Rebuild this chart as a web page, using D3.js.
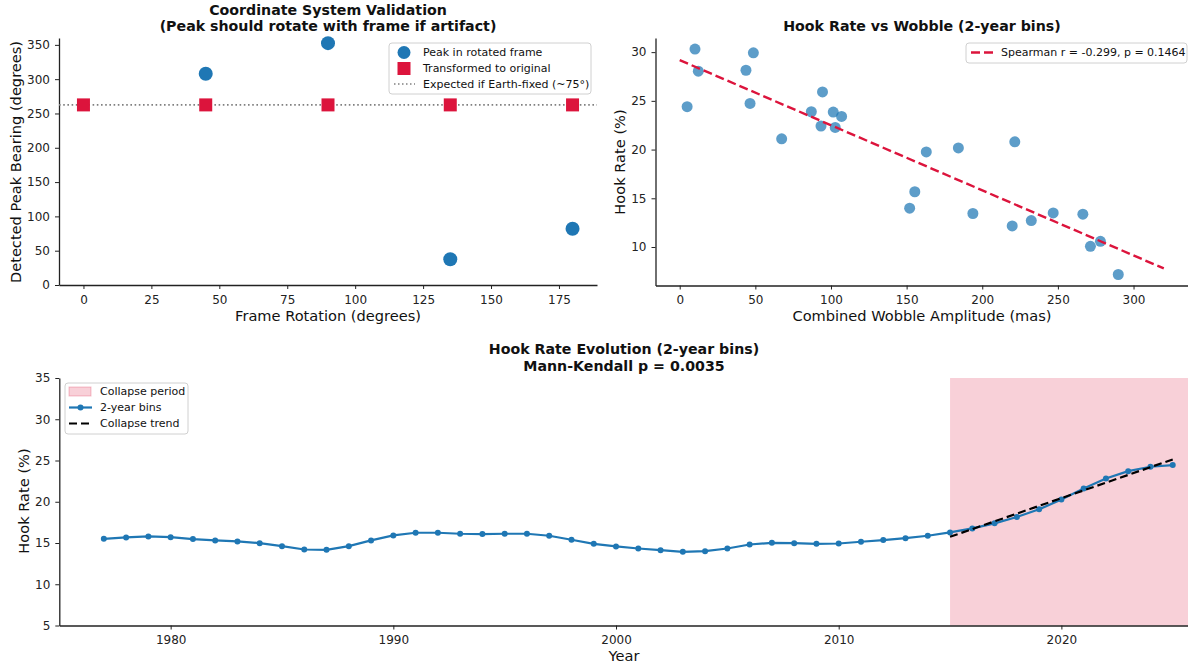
<!DOCTYPE html>
<html>
<head>
<meta charset="utf-8">
<script src="https://cdn.jsdelivr.net/npm/d3@7"></script>
<style>
  body { margin: 0; background: #fff; }
  svg text { font-family: "DejaVu Sans", sans-serif; fill: #111; }
  .tick text { font-size: 12px; fill: #222; }
  .tick line, .domain { stroke: #222; }
</style>
</head>
<body>
<div id="chart"></div>
<script>
// panel 1: frame rotation test
var rotations = [0, 45, 90, 135, 180];
var peakRotated = [null, 308, 352.5, 37.5, 82];
var peakTransformed = [262.5, 262.5, 262.5, 262.5, 262.5];
var expectedBearing = 262.5;

// panel 2: hook rate vs wobble
var wobble = [10.1, 12.3, 4.9, 48.7, 43.8, 46.5, 67.4, 87.0, 94.4, 93.4, 101.5, 102.8, 107.0,
              152.0, 155.4, 163.0, 184.2, 193.8, 219.8, 221.5, 232.4, 246.9, 266.5, 271.5, 278.1, 289.9];
var hookRate = [30.31, 28.04, 24.4, 29.93, 28.14, 24.74, 21.1, 23.88, 25.91, 22.41, 23.85, 22.27, 23.4,
                13.99, 15.67, 19.76, 20.17, 13.44, 12.16, 20.79, 12.71, 13.5, 13.37, 10.07, 10.58, 7.18];
var fitX = [0, 320];
var fitY = [29.18, 7.8];

// panel 3: hook rate evolution
var years = d3.range(1977, 2026);
var binRate = [15.51, 15.67, 15.80, 15.71, 15.47, 15.31, 15.19, 14.98, 14.62, 14.21, 14.17, 14.62, 15.31,
               15.92, 16.24, 16.24, 16.12, 16.08, 16.12, 16.12, 15.88, 15.39, 14.90,
               14.58, 14.33, 14.13, 13.93, 14.01, 14.33, 14.82, 15.02, 14.98, 14.90, 14.94, 15.15, 15.35,
               15.59, 15.88, 16.28, 16.77, 17.38, 18.15, 19.08, 20.26, 21.60, 22.82, 23.71, 24.24, 24.44];
var collapseStart = 2015, collapseEnd = 2026;
var trendYears = [2015, 2025];
var trendRate = [15.75, 25.13];

var blue = "#1f77b4", red = "#dc143c";
var titleSize = "14.2px", labelSize = "14.6px", legendSize = "11px";

var svg = d3.select("#chart").append("svg")
  .attr("width", 1188).attr("height", 665);

function styleAxis(g) {
  g.selectAll(".domain").attr("stroke-width", 1.3);
  g.selectAll(".tick line").attr("stroke-width", 1);
}

function legendBox(x, y, w, h) {
  svg.append("rect")
    .attr("x", x).attr("y", y).attr("width", w).attr("height", h)
    .attr("rx", 3)
    .attr("fill", "white").attr("fill-opacity", 0.8)
    .attr("stroke", "#d0d0d0");
}

function legendText(x, y, t) {
  svg.append("text").attr("x", x).attr("y", y).attr("dy", "0.35em")
    .style("font-size", legendSize).text(t);
}

function title(x, y, t) {
  svg.append("text").attr("x", x).attr("y", y).attr("text-anchor", "middle")
    .style("font-size", titleSize).style("font-weight", "bold").text(t);
}

function label(x, y, t, rot) {
  svg.append("text")
    .attr("transform", "translate(" + x + "," + y + ")" + (rot ? " rotate(-90)" : ""))
    .attr("text-anchor", "middle")
    .style("font-size", labelSize).text(t);
}

// ---------- panel 1 ----------
var x1 = d3.scaleLinear().domain([-9, 189]).range([59, 597]);
var y1 = d3.scaleLinear().domain([0, 360]).range([285, 38]);

svg.append("g").attr("transform", "translate(0,285)")
  .call(d3.axisBottom(x1).tickValues(d3.range(0, 176, 25)).tickSize(4).tickPadding(6).tickSizeOuter(0))
  .call(styleAxis);
svg.append("g").attr("transform", "translate(59,0)")
  .call(d3.axisLeft(y1).tickValues(d3.range(0, 351, 50)).tickSize(4).tickPadding(5).tickSizeOuter(0))
  .call(styleAxis);

svg.append("line")
  .attr("x1", 59).attr("x2", 597)
  .attr("y1", y1(expectedBearing)).attr("y2", y1(expectedBearing))
  .attr("stroke", "#808080").attr("stroke-width", 1.6).attr("stroke-dasharray", "1.6,2.6");

svg.append("g").selectAll("circle")
  .data(rotations.map(function(r, i) { return [r, peakRotated[i]]; }).filter(function(d) { return d[1] != null; }))
  .enter().append("circle")
    .attr("cx", function(d) { return x1(d[0]); })
    .attr("cy", function(d) { return y1(d[1]); })
    .attr("r", 7)
    .attr("fill", blue);

svg.append("g").selectAll("rect")
  .data(rotations.map(function(r, i) { return [r, peakTransformed[i]]; }))
  .enter().append("rect")
    .attr("x", function(d) { return x1(d[0]) - 6.5; })
    .attr("y", function(d) { return y1(d[1]) - 6.5; })
    .attr("width", 13).attr("height", 13)
    .attr("fill", red);

title(328, 15, "Coordinate System Validation");
title(328, 31, "(Peak should rotate with frame if artifact)");
label(328, 321, "Frame Rotation (degrees)");
label(21, 162, "Detected Peak Bearing (degrees)", true);

legendBox(389, 43, 202, 51);
svg.append("circle").attr("cx", 404).attr("cy", 52.5).attr("r", 6.5).attr("fill", blue);
svg.append("rect").attr("x", 397.5).attr("y", 62).attr("width", 13).attr("height", 13).attr("fill", red);
svg.append("line").attr("x1", 394).attr("x2", 415).attr("y1", 84).attr("y2", 84)
  .attr("stroke", "#808080").attr("stroke-width", 1.4).attr("stroke-dasharray", "1.5,2.5");
legendText(423, 52.5, "Peak in rotated frame");
legendText(423, 68.5, "Transformed to original");
legendText(423, 84, "Expected if Earth-fixed (~75°)");

// ---------- panel 2 ----------
var x2 = d3.scaleLinear().domain([-16, 336]).range([655.5, 1188]);
var y2 = d3.scaleLinear().domain([6.05, 31.45]).range([285.5, 38]);

svg.append("g").attr("transform", "translate(0,285.5)")
  .call(d3.axisBottom(x2).tickValues(d3.range(0, 301, 50)).tickSize(4).tickPadding(6).tickSizeOuter(0))
  .call(styleAxis);
svg.append("g").attr("transform", "translate(655.5,0)")
  .call(d3.axisLeft(y2).tickValues(d3.range(10, 31, 5)).tickSize(4).tickPadding(5).tickSizeOuter(0))
  .call(styleAxis);

svg.append("g").selectAll("circle")
  .data(wobble.map(function(w, i) { return [w, hookRate[i]]; }))
  .enter().append("circle")
    .attr("cx", function(d) { return x2(d[0]); })
    .attr("cy", function(d) { return y2(d[1]); })
    .attr("r", 5.5)
    .attr("fill", blue).attr("fill-opacity", 0.72);

svg.append("line")
  .attr("x1", x2(fitX[0])).attr("y1", y2(fitY[0]))
  .attr("x2", x2(fitX[1])).attr("y2", y2(fitY[1]))
  .attr("stroke", red).attr("stroke-width", 2.4).attr("stroke-dasharray", "9,4");

title(922, 31, "Hook Rate vs Wobble (2-year bins)");
label(922, 321, "Combined Wobble Amplitude (mas)");
label(625, 162, "Hook Rate (%)", true);

legendBox(966, 43, 221, 20);
svg.append("line").attr("x1", 971).attr("x2", 993).attr("y1", 52.5).attr("y2", 52.5)
  .attr("stroke", red).attr("stroke-width", 2.4).attr("stroke-dasharray", "9,4");
legendText(1001, 52.5, "Spearman r = -0.299, p = 0.1464");

// ---------- panel 3 ----------
var x3 = d3.scaleLinear().domain([1975, 2026]).range([59.3, 1195]);
var y3 = d3.scaleLinear().domain([5, 35]).range([625.5, 378]);

svg.append("rect")
  .attr("x", x3(collapseStart)).attr("y", y3(35))
  .attr("width", x3(collapseEnd) - x3(collapseStart)).attr("height", y3(5) - y3(35))
  .attr("fill", red).attr("fill-opacity", 0.2);

svg.append("g").attr("transform", "translate(0,625.5)")
  .call(d3.axisBottom(x3).tickValues([1980, 1990, 2000, 2010, 2020]).tickFormat(d3.format("d"))
    .tickSize(4).tickPadding(6).tickSizeOuter(0))
  .call(styleAxis);
svg.append("g").attr("transform", "translate(59.3,0)")
  .call(d3.axisLeft(y3).tickValues(d3.range(5, 36, 5)).tickSize(4).tickPadding(5).tickSizeOuter(0))
  .call(styleAxis);

var line3 = d3.line()
  .x(function(d) { return x3(d[0]); })
  .y(function(d) { return y3(d[1]); });
var binPts = years.map(function(yr, i) { return [yr, binRate[i]]; });

svg.append("path").datum(binPts).attr("d", line3)
  .attr("fill", "none").attr("stroke", blue).attr("stroke-width", 2.2);
svg.append("g").selectAll("circle").data(binPts).enter().append("circle")
  .attr("cx", function(d) { return x3(d[0]); })
  .attr("cy", function(d) { return y3(d[1]); })
  .attr("r", 3).attr("fill", blue);

svg.append("path").datum(trendYears.map(function(yr, i) { return [yr, trendRate[i]]; }))
  .attr("d", line3)
  .attr("fill", "none").attr("stroke", "#000").attr("stroke-width", 2.2).attr("stroke-dasharray", "8,4");

title(624, 354, "Hook Rate Evolution (2-year bins)");
title(624, 371, "Mann-Kendall p = 0.0035");
label(624, 661, "Year");
label(29, 501, "Hook Rate (%)", true);

legendBox(65, 383, 123, 51);
svg.append("rect").attr("x", 69).attr("y", 387).attr("width", 22).attr("height", 9)
  .attr("fill", red).attr("fill-opacity", 0.2).attr("stroke", red).attr("stroke-opacity", 0.25);
svg.append("line").attr("x1", 69).attr("x2", 92).attr("y1", 407.5).attr("y2", 407.5)
  .attr("stroke", blue).attr("stroke-width", 2.2);
svg.append("circle").attr("cx", 80.5).attr("cy", 407.5).attr("r", 3).attr("fill", blue);
svg.append("line").attr("x1", 69).attr("x2", 92).attr("y1", 423.5).attr("y2", 423.5)
  .attr("stroke", "#000").attr("stroke-width", 2.2).attr("stroke-dasharray", "8,4");
legendText(100, 391.5, "Collapse period");
legendText(100, 407.5, "2-year bins");
legendText(100, 423.5, "Collapse trend");
</script>
</body>
</html>
